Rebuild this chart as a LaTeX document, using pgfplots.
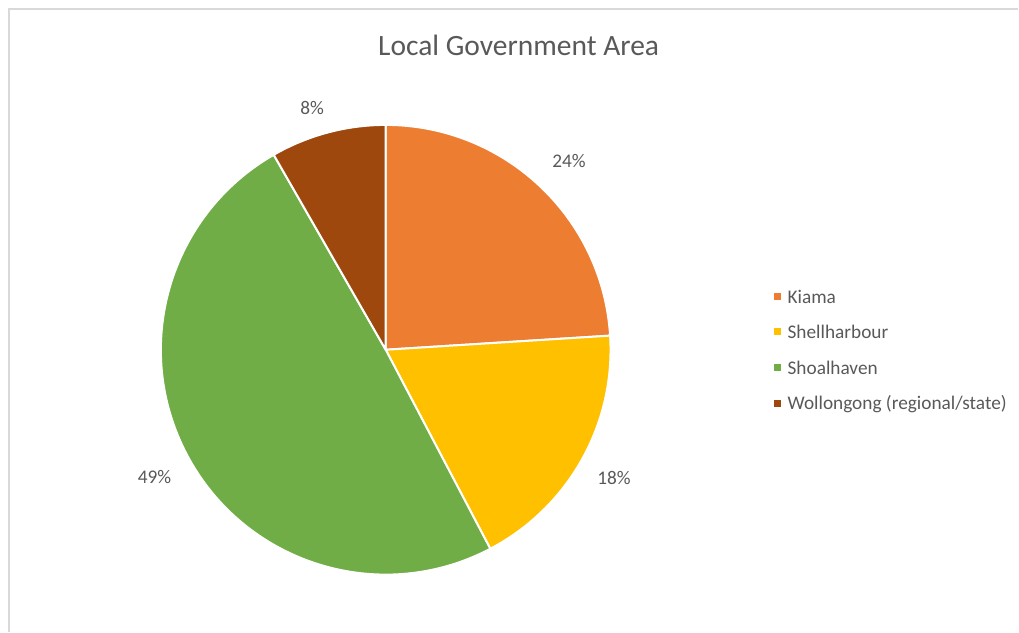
\documentclass[border=0pt]{standalone}
\usepackage{pgfplots}
\usepackage{pgfplotstable}
\pgfplotsset{compat=1.18}
\usepackage{fontspec}
\setmainfont{Carlito}
\definecolor{cKiama}{HTML}{ED7D31}
\definecolor{cShell}{HTML}{FFC000}
\definecolor{cShoal}{HTML}{70AD47}
\definecolor{cWoll}{HTML}{9E480E}
\definecolor{txt}{HTML}{595959}
\definecolor{frame}{HTML}{D9D9D9}
\pgfplotstableread{
value col labr labshift
24.0 cKiama 263 -1
18.3 cShell 262 0
49.4 cShoal 264 0
8.3 cWoll 253 2
}\piedata
\newcommand\legentry[3]{%
  \fill[#2] (axis cs:774.5,632-#1-3.5) rectangle (axis cs:781.5,632-#1+3.5);
  \node[txt, anchor=west, inner sep=0pt, font=\fontsize{19.3}{23}\selectfont] at (axis cs:788,632-#1) {#3};
}
\begin{document}
\begin{tikzpicture}
\begin{axis}[
  width=1019pt, height=632pt, scale only axis,
  xmin=0, xmax=1019, ymin=0, ymax=632,
  hide axis, clip=false,
]
\path (axis cs:0,0) (axis cs:1019,632);
\draw[frame, line width=1.5pt] (axis cs:1019,623) -- (axis cs:9,623) -- (axis cs:9,0);
\pgfplotsextra{%
  \def\startang{90}%
  \pgfplotsforeachungrouped \i in {0,1,2,3}{%
    \pgfplotstablegetelem{\i}{value}\of\piedata \let\val\pgfplotsretval
    \pgfplotstablegetelem{\i}{col}\of\piedata \let\colname\pgfplotsretval
    \pgfplotstablegetelem{\i}{labr}\of\piedata \let\labr\pgfplotsretval
    \pgfplotstablegetelem{\i}{labshift}\of\piedata \let\labshift\pgfplotsretval
    \pgfmathsetmacro{\sweep}{\val*3.6}%
    \pgfmathsetmacro{\endang}{\startang-\sweep}%
    \pgfmathsetmacro{\midang}{\startang-\sweep/2+\labshift}%
    \fill[\colname, draw=white, line width=2pt, line join=round] (axis cs:386,282) -- ++(\startang:225pt) arc[start angle=\startang, end angle=\endang, radius=225pt] -- cycle;
    \path (axis cs:386,282) ++(\midang:\labr pt) node[txt, font=\fontsize{19.3}{23}\selectfont] {\pgfmathprintnumber[fixed,precision=0,assume math mode=true]{\val}\%};
    \let\startang\endang
  }%
}
\node[txt, font=\fontsize{29.5}{34}\selectfont] at (axis cs:519,587) {Local Government Area};
\legentry{297}{cKiama}{Kiama}
\legentry{332}{cShell}{Shellharbour}
\legentry{368}{cShoal}{Shoalhaven}
\legentry{404}{cWoll}{Wollongong (regional/state)}
\end{axis}
\end{tikzpicture}
\end{document}
